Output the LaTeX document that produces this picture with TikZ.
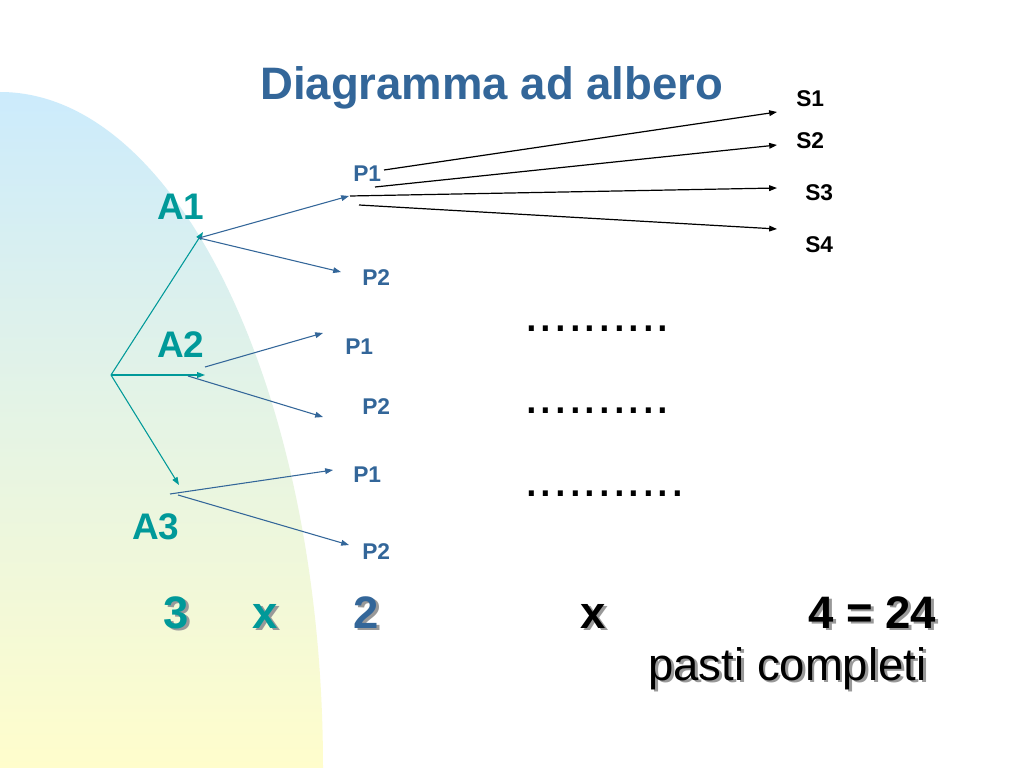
\documentclass[tikz,border=0pt]{standalone}
\usepackage{fontspec}
\setmainfont{Liberation Sans}
\usetikzlibrary{arrows.meta}

\definecolor{treeteal}{HTML}{009999}
\definecolor{treeblue}{HTML}{336699}
\definecolor{shadowgray}{HTML}{999999}
\definecolor{skyblue}{HTML}{CCEBFC}
\definecolor{paleyellow}{HTML}{FFFDCC}

\newcommand{\shadowed}[2]{\rlap{\kern2pt\raisebox{-2pt}{\color{shadowgray}#2}}{\color{#1}#2}}

\begin{document}
\begin{tikzpicture}[x=0.703125pt, y=-0.703125pt]
		\tikzstyle{lbl}=[inner sep=0pt, anchor=base west]
		\tikzstyle{heading}=[lbl, text=treeblue, font=\bfseries\fontsize{32}{38}\selectfont]
		\tikzstyle{alabel}=[lbl, text=treeteal, font=\bfseries\fontsize{26}{31}\selectfont]
		\tikzstyle{plabel}=[lbl, text=treeblue, font=\bfseries\fontsize{16}{19}\selectfont]
		\tikzstyle{slabel}=[lbl, text=black, font=\bfseries\fontsize{16}{19}\selectfont]
		\tikzstyle{dots}=[lbl, text=black, font=\fontsize{37}{44}\selectfont]
		\tikzstyle{big}=[lbl, font=\bfseries\fontsize{32}{38}\selectfont]
		\tikzstyle{connect}=[-{Triangle[length=5.5pt,width=4pt]}, line width=0.75pt]
		\useasboundingbox (0,0) rectangle (1024,768);
		\fill[white] (0,0) rectangle (1024,768);
		%\draw[red] (0,0) rectangle (1024,768);
		\shade[top color=skyblue, bottom color=paleyellow] (0,768) -- (0,92) arc[start angle=-90, end angle=0, x radius=323, y radius=676] -- cycle;
		
		\node[heading] (title) at (260,100) {Diagramma ad albero};
		
		\node[alabel] (a1) at (157,220) {A1};
		\node[alabel] (a2) at (157,357) {A2};
		\node[alabel] (a3) at (132,539) {A3};
		
		\node[plabel] (p1a) at (353,182) {P1};
		\node[plabel] (p2a) at (362,286) {P2};
		\node[plabel] (p1b) at (345,354) {P1};
		\node[plabel] (p2b) at (362,414) {P2};
		\node[plabel] (p1c) at (353,482) {P1};
		\node[plabel] (p2c) at (362,559) {P2};
		
		\node[slabel] (s1) at (796,107) {S1};
		\node[slabel] (s2) at (796,149) {S2};
		\node[slabel] (s3) at (805,201) {S3};
		\node[slabel] (s4) at (805,253) {S4};
		
		\node[dots] (dotsa) at (524,331) {..........};
		\node[dots] (dotsb) at (524,413) {..........};
		\node[dots] (dotsc) at (524,496) {...........};
		
		\node[big] (three) at (163,628) {\shadowed{treeteal}{3}};
		\node[big] (timesa) at (252,628) {\shadowed{treeteal}{x}};
		\node[big] (two) at (353,628) {\shadowed{treeblue}{2}};
		\node[big] (timesb) at (580,628) {\shadowed{black}{x}};
		\node[big] (total) at (808,628) {\shadowed{black}{4 = 24}};
		\node[big, font=\fontsize{32}{38}\selectfont] (meals) at (648,680) {\shadowed{black}{pasti completi}};
		
		% branch points
		\coordinate (root) at (111,375);
		\coordinate (a1tip) at (203,232);
		\coordinate (a2tip) at (205,375);
		\coordinate (a3tip) at (179,485);
		\coordinate (a1fork) at (199,238);
		\coordinate (a2forkup) at (205,367);
		\coordinate (a2forkdn) at (188,376);
		\coordinate (a3forkup) at (170,494);
		\coordinate (a3forkdn) at (178,495);
		\coordinate (p1atip) at (349,196);
		\coordinate (p2atip) at (341,272);
		\coordinate (p1btip) at (323,333);
		\coordinate (p2btip) at (323,417);
		\coordinate (p1ctip) at (333,470);
		\coordinate (p2ctip) at (349,545);
		\coordinate (s1from) at (384,170);
		\coordinate (s2from) at (375,187);
		\coordinate (s3from) at (350,196);
		\coordinate (s4from) at (359,205);
		\coordinate (s1tip) at (777,112);
		\coordinate (s2tip) at (777,145);
		\coordinate (s3tip) at (777,188);
		\coordinate (s4tip) at (777,229);
		
		\path (root) edge [connect, treeteal] (a1tip);
		\path (root) edge [connect, treeteal] (a2tip);
		\path (root) edge [connect, treeteal] (a3tip);
		
		\path (a1fork) edge [connect, treeblue] (p1atip);
		\path (a1fork) edge [connect, treeblue] (p2atip);
		\path (a2forkup) edge [connect, treeblue] (p1btip);
		\path (a2forkdn) edge [connect, treeblue] (p2btip);
		\path (a3forkup) edge [connect, treeblue] (p1ctip);
		\path (a3forkdn) edge [connect, treeblue] (p2ctip);
		
		\path (s1from) edge [connect, line width=0.85pt] (s1tip);
		\path (s2from) edge [connect, line width=0.85pt] (s2tip);
		\path (s3from) edge [connect, line width=0.85pt] (s3tip);
		\path (s4from) edge [connect, line width=0.85pt] (s4tip);

	\end{tikzpicture}
\end{document}
